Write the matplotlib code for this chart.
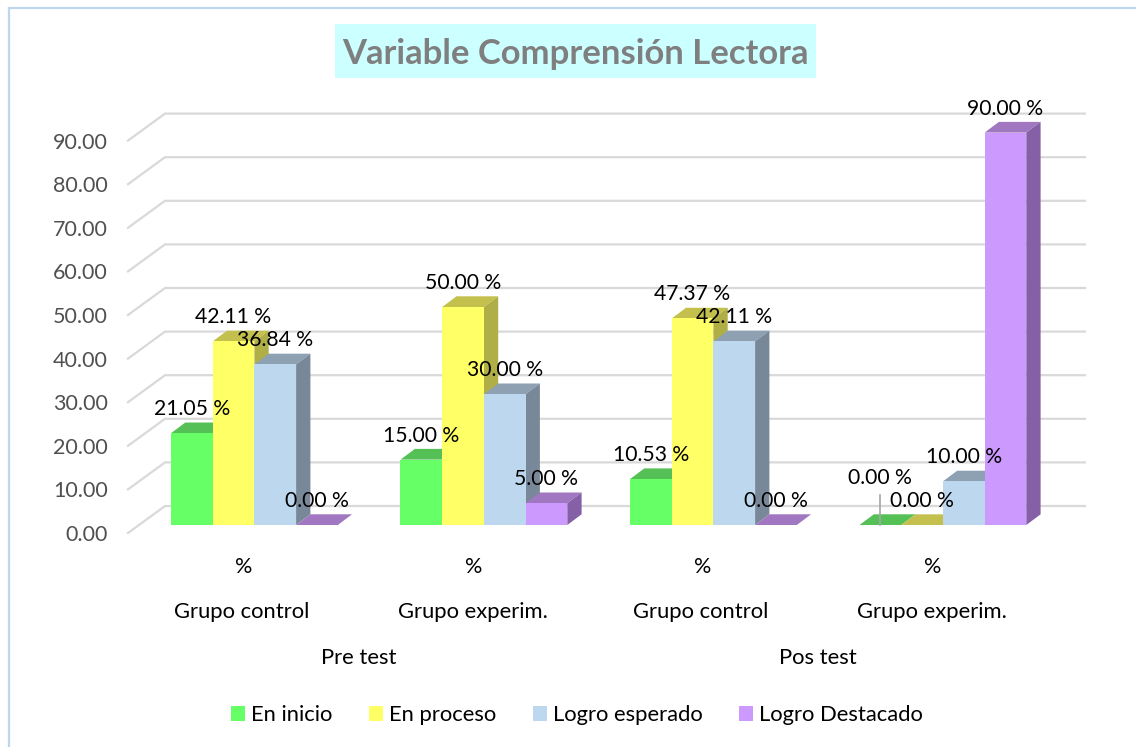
import matplotlib
matplotlib.use("Agg")
import matplotlib.pyplot as plt
from matplotlib.patches import Rectangle, Polygon, Patch
from matplotlib.lines import Line2D
from matplotlib.transforms import ScaledTranslation

plt.rcParams['font.family'] = ['Lato', 'DejaVu Sans']

# ---- data
title = "Variable Comprensión Lectora"
series_names = ["En inicio", "En proceso", "Logro esperado", "Logro Destacado"]
en_inicio = [21.05, 15.00, 10.53, 0.00]
en_proceso = [42.11, 50.00, 47.37, 0.00]
logro_esperado = [36.84, 30.00, 42.11, 10.00]
logro_destacado = [0.00, 5.00, 0.00, 90.00]
unit_labels = ["%", "%", "%", "%"]
group_labels = ["Grupo control", "Grupo experim.", "Grupo control", "Grupo experim."]
phase_labels = ["Pre test", "Pos test"]
y_ticks = [0, 10, 20, 30, 40, 50, 60, 70, 80, 90]

# ---- style
front_colors = ["#66FF66", "#FFFF66", "#BDD7EE", "#CC99FF"]
top_colors = ["#55C055", "#C4C04D", "#8DA1B3", "#A077C0"]
side_colors = ["#4DA84D", "#B0AE47", "#788898", "#8560A6"]

W, H = 1136, 747
fig = plt.figure(figsize=(W / 100, H / 100), dpi=100)
fig.patch.set_facecolor("white")

PX_Y = 4.36      # pixels per percentage point
PX_X = 229.5     # pixels per group
x_left, x_right = 128, 1085
y_base = 533
ax = fig.add_axes([x_left / W, (H - y_base) / H, (x_right - x_left) / W, 90 * PX_Y / H])
ax.set_ylim(0, 90)
x0_px = 254.4
ax.set_xlim((x_left - x0_px) / PX_X, (x_right - x0_px) / PX_X)
ax.patch.set_alpha(0)
for s in ax.spines.values():
    s.set_visible(False)

ax.set_yticks(y_ticks)
ax.set_yticklabels([f"{v:.2f}" for v in y_ticks], fontsize=15.5, color="#505050")
ax.tick_params(axis='y', length=0, pad=14.5)
ax.set_xticks(range(4))
ax.set_xticklabels(unit_labels, fontsize=15.5, color="black")
ax.tick_params(axis='x', length=0, pad=17)
shift = ScaledTranslation(-10.5 / 100, 0, fig.dpi_scale_trans)
for lab in ax.get_xticklabels():
    lab.set_transform(lab.get_transform() + shift)

def dx(px): return px / PX_X
def dy(px): return px / PX_Y

# back wall grid
wall_dx, wall_dy = dx(37), dy(27)
xl = (x_left - x0_px) / PX_X
xr = (x_right - x0_px) / PX_X
for v in y_ticks:
    ax.plot([xl, xl + wall_dx, xr], [v, v + wall_dy, v + wall_dy], color="#D9D9D9",
            lw=1.6, zorder=1, clip_on=False, solid_joinstyle="miter")

# bars
bar_w = dx(41.7)
lift = dy(8)
depth_x, depth_y = dx(14.3), dy(10.7)
series = [en_inicio, en_proceso, logro_esperado, logro_destacado]
z = 2
for i in range(4):
    for j, vals in enumerate(series):
        v = vals[i]
        x = i + (j - 2) * bar_w
        top = v + lift
        ax.bar(x, v, width=bar_w, bottom=lift, align="edge", color=front_colors[j],
               linewidth=0, zorder=z + 0.2, clip_on=False)
        ax.add_patch(Polygon([(x, top), (x + bar_w, top),
                              (x + bar_w + depth_x, top + depth_y), (x + depth_x, top + depth_y)],
                             closed=True, fc=top_colors[j], ec="none", zorder=z, clip_on=False))
        if v > 0:
            ax.add_patch(Polygon([(x + bar_w, lift), (x + bar_w + depth_x, lift + depth_y),
                                  (x + bar_w + depth_x, top + depth_y), (x + bar_w, top)],
                                 closed=True, fc=side_colors[j], ec="none", zorder=z, clip_on=False))
        z += 1

# data labels
for i in range(4):
    for j, vals in enumerate(series):
        v = vals[i]
        xc = i + (j - 1.5) * bar_w
        extra = 23 if (i == 3 and j == 0) else 0
        ax.text(xc, v + lift + dy(24 + extra), f"{v:.2f} %", ha="center", va="center",
                fontsize=15.2, color="black", zorder=100, clip_on=False)
        if extra:
            ax.plot([xc, xc], [lift, lift + dy(30)], color="#A6A6A6", lw=1.2,
                    zorder=99, clip_on=False)

# category levels
for i, g in enumerate(group_labels):
    off = 13 if g == "Grupo control" else 10.5
    ax.text(i - dx(off), -dy(79), g, ha="center", va="center",
            fontsize=15.8, color="black", clip_on=False)
for k, p in enumerate(phase_labels):
    ax.text(0.5 + 2 * k - dx(10), -dy(125), p, ha="center", va="center",
            fontsize=15.8, color="black", clip_on=False)

# title
fig.add_artist(Rectangle((335 / W, 1 - 78 / H), 481 / W, 54 / H, transform=fig.transFigure,
                         fc="#CCFFFF", ec="none", zorder=0))
fig.text(575.5 / W, 1 - 53.5 / H, title, ha="center", va="center", fontsize=24.9,
         fontweight="bold", color="#7F7F7F")

# frame
fig.add_artist(Line2D([8.5 / W, 8.5 / W], [0, 1 - 8 / H], color="#BDD7EE", lw=1.6,
                      transform=fig.transFigure))
fig.add_artist(Line2D([8.5 / W, 1], [1 - 8 / H, 1 - 8 / H], color="#BDD7EE", lw=1.6,
                      transform=fig.transFigure))

# legend
handles = [Patch(fc=c, ec="none", label=n) for c, n in zip(front_colors, series_names)]
leg = fig.legend(handles=handles, ncol=4, frameon=False, fontsize=15.8,
                 loc="center", bbox_to_anchor=(577 / W, 1 - 715 / H),
                 handlelength=0.64, handleheight=0.64, handletextpad=0.27, columnspacing=1.66)

fig.savefig("out.png", dpi=100)
